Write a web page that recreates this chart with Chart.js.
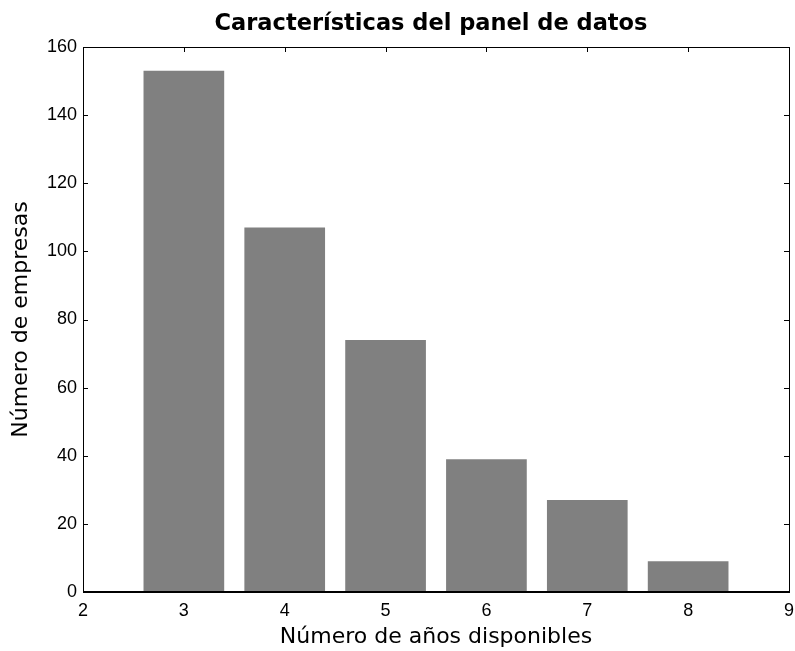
<!DOCTYPE html>
<html>
<head>
<meta charset="utf-8">
<script src="https://cdn.jsdelivr.net/npm/chart.js@4"></script>
<style>
  html, body { margin: 0; padding: 0; background: #fff; }
  #wrap { width: 795px; height: 651px; }
</style>
</head>
<body>
<div id="wrap"><canvas id="chart"></canvas></div>
<script>
// data
const years = [3, 4, 5, 6, 7, 8];
const companies = [153, 107, 74, 39, 27, 9];
const xTicks = [2, 3, 4, 5, 6, 7, 8, 9];
const yTicks = [0, 20, 40, 60, 80, 100, 120, 140, 160];

const titleText = 'Características del panel de datos';
const xLabel = 'Número de años disponibles';
const yLabel = 'Número de empresas';

// matlab style box with ticks pointing inwards
const boxPlugin = {
    id: 'box',
    beforeDatasetsDraw(chart) {
        const { ctx, chartArea: a, scales } = chart;
        const len = 5;
        ctx.save();
        ctx.strokeStyle = '#000';
        ctx.lineWidth = 1;
        ctx.beginPath();
        xTicks.forEach(v => {
            const x = Math.round(scales.x.getPixelForValue(v)) + 0.5;
            ctx.moveTo(x, a.bottom); ctx.lineTo(x, a.bottom - len);
            ctx.moveTo(x, a.top); ctx.lineTo(x, a.top + len);
        });
        yTicks.forEach(v => {
            const y = Math.round(scales.y.getPixelForValue(v)) + 0.5;
            ctx.moveTo(a.left, y); ctx.lineTo(a.left + len, y);
            ctx.moveTo(a.right, y); ctx.lineTo(a.right - len, y);
        });
        ctx.stroke();
        ctx.restore();
    },
    afterDatasetsDraw(chart) {
        const { ctx, chartArea: a } = chart;
        ctx.save();
        ctx.strokeStyle = '#000';
        ctx.lineWidth = 1;
        ctx.strokeRect(Math.round(a.left) + 0.5, Math.round(a.top) + 0.5,
            Math.round(a.right - a.left), Math.round(a.bottom - a.top));
        ctx.lineWidth = 2;
        ctx.beginPath();
        ctx.moveTo(a.left, Math.round(a.bottom));
        ctx.lineTo(a.right + 1, Math.round(a.bottom));
        ctx.stroke();
        // title
        ctx.fillStyle = '#000';
        ctx.font = 'bold 22.5px "DejaVu Sans"';
        ctx.textAlign = 'center';
        ctx.textBaseline = 'alphabetic';
        ctx.fillText(titleText, 431, 30);
        ctx.restore();
    }
};

new Chart(document.getElementById('chart'), {
    type: 'bar',
    data: {
        datasets: [{
            data: years.map((y, i) => ({ x: y, y: companies[i] })),
            backgroundColor: '#808080',
            borderWidth: 0,
            categoryPercentage: 1,
            barPercentage: 0.8
        }]
    },
    options: {
        responsive: true,
        maintainAspectRatio: false,
        animation: false,
        layout: { padding: { top: 47, right: 6, left: 0, bottom: 0 } },
        plugins: {
            legend: { display: false },
            tooltip: { enabled: false }
        },
        scales: {
            x: {
                type: 'linear',
                offset: false,
                min: 2,
                max: 9,
                afterBuildTicks: s => { s.ticks = xTicks.map(v => ({ value: v })); },
                afterFit: s => { s.height = 59; s.paddingLeft = 0; s.paddingRight = 0; },
                grid: { display: false, drawTicks: false, offset: false },
                border: { display: false },
                ticks: {
                    color: '#000',
                    padding: 8,
                    font: { family: 'Liberation Sans', size: 18 }
                },
                title: {
                    display: true,
                    text: xLabel,
                    color: '#000',
                    font: { family: 'DejaVu Sans', size: 22 },
                    padding: { top: 0, bottom: 1 }
                }
            },
            y: {
                min: 0,
                max: 160,
                afterBuildTicks: s => { s.ticks = yTicks.map(v => ({ value: v })); },
                afterFit: s => { s.width = 83; s.paddingTop = 0; s.paddingBottom = 0; },
                grid: { display: false, drawTicks: false },
                border: { display: false },
                ticks: {
                    color: '#000',
                    padding: 6,
                    font: { family: 'Liberation Sans', size: 18 }
                },
                title: {
                    display: true,
                    text: yLabel,
                    color: '#000',
                    font: { family: 'DejaVu Sans', size: 22 },
                    padding: { top: 8, bottom: 0 }
                }
            }
        }
    },
    plugins: [boxPlugin]
});
</script>
</body>
</html>
